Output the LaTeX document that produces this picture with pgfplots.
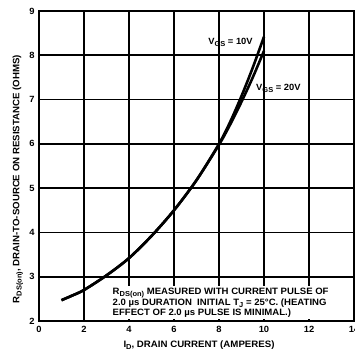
\documentclass[border=0pt]{standalone}
\usepackage{fontspec}
\setmainfont{Liberation Sans}[FakeStretch=1.04]
\usepackage{pgfplots}
\pgfplotsset{compat=1.18}
\newcommand{\sub}[1]{\raisebox{-0.45ex}{\fontsize{7.2}{8}\selectfont #1}}

\begin{document}
\begin{tikzpicture}
\begin{axis}[
  scale only axis, width=315pt, height=310pt,
  xmin=0, xmax=14, ymin=2, ymax=9,
  xtick={0,2,...,14}, ytick={2,3,...,9},
  grid=major, grid style={black, line width=1.6pt},
  axis line style={line width=2.4pt},
  tick style={draw=none},
  /pgf/number format/assume math mode=true,
  tick label style={font=\bfseries\fontsize{9}{10}\selectfont},
  xticklabel style={yshift=-2pt},
  yticklabel style={xshift=-1pt},
  label style={font=\bfseries\fontsize{9.3}{10}\selectfont},
  xlabel={I\sub{D}, DRAIN CURRENT (AMPERES)},
  ylabel={R\sub{DS(on)}, DRAIN-TO-SOURCE ON RESISTANCE (OHMS)},
  xlabel style={at={(axis description cs:0.508,-0.077)}, anchor=center},
  ylabel style={at={(axis description cs:-0.067,0.458)}, anchor=center},
]
% test-condition note, on a white patch over the grid
\node[anchor=south west, fill=white, inner sep=1.5pt, align=left,
      font=\bfseries\fontsize{9.2}{10.6}\selectfont]
  at (axis cs:3.2,2.04)
  {R\sub{DS(on)} MEASURED WITH CURRENT PULSE OF\\
   2.0 µs DURATION\ \ INITIAL T\sub{J} = 25°C. (HEATING\\
   EFFECT OF 2.0 µs PULSE IS MINIMAL.)};

% V_GS = 10 V
\addplot[black, line width=2.6pt, smooth] coordinates {
  (1,2.47) (1.5,2.58) (2,2.7) (3,3.03) (4,3.42) (5,3.92) (6,4.5)
  (7,5.18) (8,6.0) (8.5,6.5) (9,7.08) (9.5,7.72) (10,8.42)};
% V_GS = 20 V
\addplot[black, line width=2.6pt, smooth] coordinates {
  (1,2.47) (1.5,2.58) (2,2.7) (3,3.03) (4,3.42) (5,3.92) (6,4.5)
  (7,5.18) (8,5.98) (8.5,6.44) (9,6.95) (9.5,7.5) (10,8.1)};

\node[anchor=east, font=\bfseries\fontsize{9}{10}\selectfont, inner sep=1pt]
  at (axis cs:9.55,8.3) {V\sub{GS} = 10V};
\node[anchor=west, font=\bfseries\fontsize{9}{10}\selectfont, inner sep=1pt]
  at (axis cs:9.6,7.26) {V\sub{GS} = 20V};
\end{axis}
\pgfresetboundingbox
\useasboundingbox ([shift={(-39pt,-41pt)}]current axis.south west)
  rectangle ([shift={(0pt,11pt)}]current axis.north east);
\end{tikzpicture}
\end{document}
